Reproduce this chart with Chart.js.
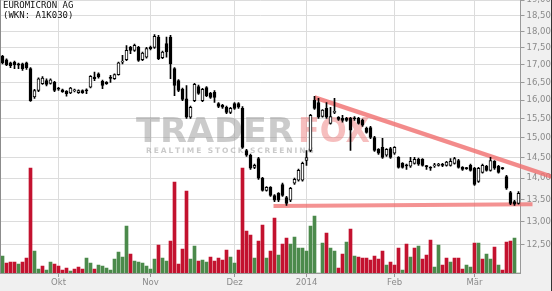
<!DOCTYPE html>
<html><head><meta charset="utf-8">
<script src="https://cdn.jsdelivr.net/npm/chart.js@4.4.1/dist/chart.umd.min.js"></script>
<style>html,body{margin:0;padding:0;background:#f0f0f0;overflow:hidden}canvas{display:block}</style>
</head><body>
<canvas id="c" width="552" height="291"></canvas>
<script>
// ---------- data ----------
const dates = [
'2013-09-11','2013-09-12','2013-09-13','2013-09-16','2013-09-17','2013-09-18','2013-09-19','2013-09-20','2013-09-23','2013-09-24','2013-09-25','2013-09-26','2013-09-27','2013-09-30',
'2013-10-01','2013-10-02','2013-10-03','2013-10-04','2013-10-07','2013-10-08','2013-10-09','2013-10-10','2013-10-11','2013-10-14','2013-10-15','2013-10-16','2013-10-17','2013-10-18','2013-10-21','2013-10-22','2013-10-23','2013-10-24','2013-10-25','2013-10-28','2013-10-29','2013-10-30','2013-10-31',
'2013-11-01','2013-11-04','2013-11-05','2013-11-06','2013-11-07','2013-11-08','2013-11-11','2013-11-12','2013-11-13','2013-11-14','2013-11-15','2013-11-18','2013-11-19','2013-11-20','2013-11-21','2013-11-22','2013-11-25','2013-11-26','2013-11-27','2013-11-28','2013-11-29',
'2013-12-02','2013-12-03','2013-12-04','2013-12-05','2013-12-06','2013-12-09','2013-12-10','2013-12-11','2013-12-12','2013-12-13','2013-12-16','2013-12-17','2013-12-18','2013-12-19','2013-12-20','2013-12-23','2013-12-27','2013-12-30',
'2014-01-02','2014-01-03','2014-01-06','2014-01-07','2014-01-08','2014-01-09','2014-01-10','2014-01-13','2014-01-14','2014-01-15','2014-01-16','2014-01-17','2014-01-20','2014-01-21','2014-01-22','2014-01-23','2014-01-24','2014-01-27','2014-01-28','2014-01-29','2014-01-30','2014-01-31',
'2014-02-03','2014-02-04','2014-02-05','2014-02-06','2014-02-07','2014-02-10','2014-02-11','2014-02-12','2014-02-13','2014-02-14','2014-02-17','2014-02-18','2014-02-19','2014-02-20','2014-02-21','2014-02-24','2014-02-25','2014-02-26','2014-02-27','2014-02-28',
'2014-03-03','2014-03-04','2014-03-05','2014-03-06','2014-03-07','2014-03-10','2014-03-11','2014-03-12','2014-03-13','2014-03-14','2014-03-17','2014-03-18'
];
const opens = [
17.25,17.15,17.06,17.08,17.03,17.03,17.06,16.89,16.09,16.27,
16.46,16.55,16.47,16.50,16.32,16.29,16.25,16.20,16.26,16.21,
16.27,16.27,16.36,16.65,16.74,16.53,16.50,16.62,16.60,16.72,
17.08,17.15,17.52,17.43,17.52,17.15,17.23,17.52,17.52,17.83,
17.21,17.63,17.83,16.89,16.55,16.31,16.04,15.54,15.99,16.38,
15.99,16.35,16.19,16.22,15.91,15.86,15.81,15.67,15.91,15.91,
15.78,14.68,14.56,14.26,14.48,14.00,13.71,13.78,13.59,13.64,
13.85,13.54,13.48,13.88,13.95,13.95,14.43,14.68,16.00,15.94,
15.56,15.78,15.38,15.67,15.54,15.51,15.51,15.51,15.51,15.51,
15.46,15.25,15.27,15.01,14.71,14.76,14.56,14.73,14.61,14.51,
14.36,14.32,14.29,14.36,14.46,14.46,14.30,14.26,14.30,14.31,
14.32,14.31,14.31,14.36,14.43,14.26,14.24,14.31,14.24,13.92,
14.14,14.29,14.19,14.41,14.29,14.24,14.04,13.66,13.45,13.41
];
const highs = [
17.28,17.18,17.08,17.11,17.05,17.05,17.08,16.92,16.30,16.63,
16.66,16.60,16.60,16.53,16.36,16.31,16.27,16.36,16.31,16.29,
16.29,16.32,16.69,16.79,16.77,16.56,16.52,16.70,16.74,17.08,
17.28,17.57,17.55,17.62,17.55,17.38,17.52,17.56,17.91,17.88,
17.41,17.83,17.88,16.92,16.58,16.34,16.41,15.84,16.47,16.42,
16.33,16.38,16.22,16.27,15.94,15.89,15.84,15.81,15.94,15.94,
15.83,14.71,14.59,14.34,14.51,14.02,13.80,13.80,13.61,13.66,
13.88,13.57,13.78,14.00,14.22,14.39,14.68,15.62,16.11,16.05,
15.75,15.94,15.81,16.05,15.56,15.59,15.54,15.54,15.56,15.54,
15.49,15.28,15.30,15.04,14.73,14.99,14.73,14.76,14.78,14.53,
14.38,14.34,14.51,14.51,14.49,14.48,14.31,14.28,14.36,14.36,
14.36,14.41,14.48,14.51,14.46,14.28,14.26,14.34,14.26,14.26,
14.34,14.31,14.51,14.43,14.31,14.26,14.07,13.69,13.48,13.68
];
const lows = [
17.03,16.98,16.92,16.89,16.89,16.84,16.87,15.97,16.05,16.24,
16.44,16.40,16.45,16.24,16.27,16.22,16.11,16.18,16.23,16.19,
16.19,16.18,16.34,16.55,16.62,16.32,16.44,16.50,16.58,16.70,
17.03,17.12,17.33,17.40,17.10,17.12,17.20,17.44,17.49,17.15,
17.18,17.23,16.60,16.13,16.24,15.99,15.51,15.51,15.96,16.16,
15.96,16.10,16.05,15.94,15.80,15.78,15.64,15.64,15.75,15.78,
14.73,14.53,14.21,14.23,13.97,13.69,13.69,13.57,13.45,13.45,
13.57,13.36,13.45,13.85,13.93,13.93,14.31,14.65,15.75,15.51,
15.54,15.51,15.36,15.64,15.46,15.41,15.43,14.68,15.46,15.36,
15.30,15.12,14.98,14.66,14.58,14.48,14.53,14.48,14.58,14.24,
14.24,14.21,14.26,14.34,14.31,14.29,14.21,14.19,14.26,14.29,
14.28,14.29,14.29,14.34,14.24,14.19,14.21,14.17,13.83,13.90,
14.12,14.17,14.17,14.21,14.12,14.21,13.73,13.38,13.36,13.39
];
const closes = [
17.06,17.00,16.98,17.00,16.99,16.89,16.92,15.99,16.27,16.60,
16.62,16.44,16.57,16.27,16.31,16.24,16.18,16.34,16.28,16.27,
16.21,16.26,16.67,16.60,16.65,16.41,16.46,16.61,16.72,17.06,
17.11,17.43,17.43,17.58,17.13,17.35,17.48,17.48,17.85,17.18,
17.38,17.38,17.03,16.41,16.27,16.02,15.54,15.81,16.44,16.19,
16.30,16.13,16.08,16.08,15.83,15.81,15.67,15.78,15.78,15.81,
14.76,14.56,14.24,14.31,14.00,13.71,13.78,13.59,13.48,13.48,
13.59,13.41,13.76,13.97,14.19,14.36,14.50,15.59,15.78,15.54,
15.73,15.54,15.56,15.68,15.48,15.46,15.46,15.20,15.50,15.38,
15.33,15.14,15.01,14.68,14.61,14.51,14.71,14.51,14.76,14.26,
14.26,14.30,14.41,14.46,14.34,14.31,14.28,14.24,14.32,14.34,
14.31,14.39,14.41,14.48,14.26,14.21,14.23,14.19,13.85,14.24,
14.31,14.19,14.43,14.24,14.14,14.23,13.76,13.41,13.39,13.64
];
// volume in thousand shares
const volumes = [
17,10,11,11,9,11,15,105,22,4,
7,3,11,9,7,3,5,2,4,6,
4,15,10,4,8,7,5,3,14,21,
16,47,19,12,11,10,7,4,14,28,
15,12,32,91,9,24,82,14,27,12,
13,11,16,12,15,13,23,16,10,23,
105,42,38,15,32,48,15,22,55,18,
29,35,29,36,25,25,22,47,57,0,
30,40,25,22,5,19,31,44,17,16,
15,15,13,17,14,22,8,11,8,25,
3,29,16,25,27,14,18,33,6,28,
8,15,11,15,15,4,8,6,30,30,
14,19,14,26,8,3,31,32,35,0
];
// 1 = rising (green), 0 = falling (red)
const volumeUp = [
1,0,0,0,1,0,0,0,1,1,
0,1,1,0,0,0,0,1,0,0,
0,1,1,0,1,1,1,1,1,1,
1,1,0,1,1,1,1,1,1,0,
1,1,0,0,0,0,0,1,1,0,
1,1,0,0,0,0,0,1,1,0,
0,0,0,1,0,0,1,0,0,1,
0,0,1,1,1,1,1,1,1,1,
1,0,1,1,0,0,1,0,1,0,
0,0,0,0,0,0,1,0,0,0,
1,0,1,0,1,0,0,0,1,1,
0,0,1,0,0,0,1,1,0,1,
0,1,1,0,1,0,0,0,1,1
];
const priceTicks = [12.5,13,13.5,14,14.5,15,15.5,16,16.5,17,17.5,18,18.5,19];
const monthTickDates = ['2013-10-01','2013-11-01','2013-12-02','2014-01-02','2014-02-03','2014-03-03'];
const monthTickLabels = ['Okt','Nov','Dez','2014','Feb','Mär'];
// trend lines: [day index, price]
const resistanceLine = [[78, 16.08], [137.5, 14.03]];
const supportLine = [[67.75, 13.35], [132.5, 13.39]];
const titleLines = ['EUROMICRON AG', '(WKN: A1K030)'];
const volumeMax = 273;

// ---------- chart ----------
const bodies = opens.map((o, i) => [o, closes[i]]);
const wicks = lows.map((l, i) => [l, highs[i]]);
const RED = '#c3122f', GREEN = '#4b8a4b';

const bgPlugin = {
  id: 'bg',
  beforeDraw(chart) {
    const {ctx, chartArea: a} = chart;
    ctx.save();
    ctx.fillStyle = '#f0f0f0';
    ctx.fillRect(0, 0, chart.width, chart.height);
    ctx.fillStyle = '#ffffff';
    ctx.fillRect(a.left, a.top, a.right - a.left, a.bottom - a.top);
    ctx.restore();
  }
};
const watermarkPlugin = {
  id: 'wm',
  beforeDatasetsDraw(chart) {
    const ctx = chart.ctx;
    ctx.save();
    ctx.textBaseline = 'alphabetic';
    ctx.font = 'bold 34px "DejaVu Sans"';
    let w = ctx.measureText('TRADER').width;
    ctx.save();
    ctx.translate(136, 142);
    ctx.scale(158 / w, 1);
    ctx.fillStyle = 'rgba(140,140,140,0.45)';
    ctx.fillText('TRADER', 0, 0);
    ctx.restore();
    w = ctx.measureText('FOX').width;
    ctx.save();
    ctx.translate(298, 142);
    ctx.scale(72 / w, 1);
    ctx.fillStyle = 'rgba(235,110,110,0.45)';
    ctx.fillText('FOX', 0, 0);
    ctx.restore();
    ctx.font = 'bold 7.5px "DejaVu Sans"';
    ctx.fillStyle = 'rgba(150,150,150,0.5)';
    const s = 'REALTIME STOCK SCREENING';
    let x = 146;
    for (const ch of s) { ctx.fillText(ch, x, 153); x += ctx.measureText(ch).width + 1.9; }
    ctx.restore();
  }
};
const framePlugin = {
  id: 'frame',
  afterDraw(chart) {
    const {ctx, chartArea: a} = chart;
    ctx.save();
    ctx.strokeStyle = '#8c8c8c';
    ctx.lineWidth = 1;
    ctx.beginPath(); ctx.moveTo(0.5, 0); ctx.lineTo(0.5, a.bottom); ctx.stroke();
    ctx.strokeStyle = '#333';
    ctx.beginPath(); ctx.moveTo(551.5, 0); ctx.lineTo(551.5, chart.height); ctx.stroke();
    ctx.fillStyle = '#111';
    ctx.font = '9px "DejaVu Sans Mono"';
    ctx.textBaseline = 'middle';
    ctx.fillText(titleLines[0], 3, 6);
    ctx.fillText(titleLines[1], 3, 15.5);
    ctx.restore();
  }
};

new Chart(document.getElementById('c'), {
  data: {
    labels: dates,
    datasets: [
      { type: 'bar', label: 'body', data: bodies, xAxisID: 'x', yAxisID: 'y', grouped: false, order: 0,
        barThickness: 3, minBarLength: 1, borderWidth: 1, borderSkipped: false, borderColor: '#000',
        backgroundColor: c => closes[c.dataIndex] >= opens[c.dataIndex] ? '#ffffff' : '#000000' },
      { type: 'bar', label: 'wick', data: wicks, xAxisID: 'x', yAxisID: 'y', grouped: false, order: 1,
        barThickness: 1, backgroundColor: '#000' },
      { type: 'line', label: 'res', data: resistanceLine.map(p => ({x: p[0], y: p[1]})), xAxisID: 'x2', yAxisID: 'y',
        borderColor: 'rgba(240,110,110,0.8)', borderWidth: 4.5, pointRadius: 0, clip: false, order: 2 },
      { type: 'line', label: 'sup', data: supportLine.map(p => ({x: p[0], y: p[1]})), xAxisID: 'x2', yAxisID: 'y',
        borderColor: 'rgba(240,110,110,0.75)', borderWidth: 4, pointRadius: 0, clip: false, order: 2 },
      { type: 'bar', label: 'vol', data: volumes, xAxisID: 'x', yAxisID: 'yv', grouped: false, order: 5,
        barThickness: 3, backgroundColor: c => volumeUp[c.dataIndex] ? GREEN : RED }
    ]
  },
  options: {
    responsive: false, animation: false, devicePixelRatio: 1,
    layout: { autoPadding: false, padding: { left: 0.5, top: 0, right: 0, bottom: 0 } },
    plugins: { legend: { display: false }, tooltip: { enabled: false } },
    scales: {
      x: {
        type: 'category', offset: true,
        grid: { offset: false, color: '#dcdcdc', tickLength: 4, tickColor: '#999' },
        border: { color: '#999' },
        ticks: { autoSkip: false, maxRotation: 0, color: '#8a8a8a', padding: 1,
          font: { family: 'DejaVu Sans', size: 8.5 },
          callback: v => { const k = monthTickDates.indexOf(dates[v]); return k >= 0 ? monthTickLabels[k] : ''; } },
        afterBuildTicks: s => { s.ticks = monthTickDates.map(d => ({ value: dates.indexOf(d) })); },
        afterFit: s => { s.height = 18; s.paddingLeft = 0; s.paddingRight = 0; }
      },
      x2: { type: 'linear', display: false, min: -0.5, max: dates.length - 0.5 },
      y: {
        type: 'logarithmic', position: 'right', min: 11.905, max: 19,
        grid: { color: '#dcdcdc', tickLength: 4, tickColor: '#999' },
        border: { color: '#999' },
        ticks: { color: '#8a8a8a', padding: 2, font: { family: 'DejaVu Sans', size: 8.5 },
          callback: v => Number(v).toFixed(2).replace('.', ',') },
        afterBuildTicks: s => { s.ticks = priceTicks.map(v => ({ value: v })); },
        afterFit: s => { s.width = 31.5; s.paddingTop = 0; s.paddingBottom = 0; }
      },
      yv: { type: 'linear', display: false, min: 0, max: volumeMax }
    }
  },
  plugins: [bgPlugin, watermarkPlugin, framePlugin]
});
</script>
</body></html>
